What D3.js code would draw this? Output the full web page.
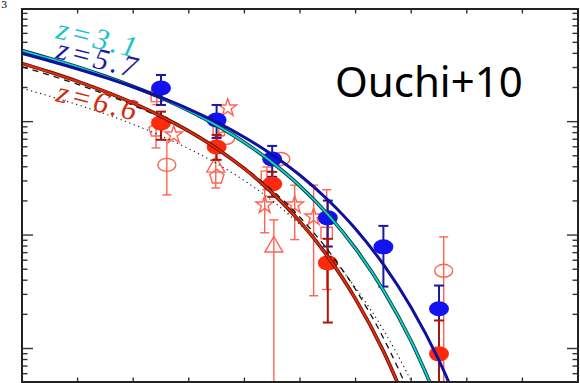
<!DOCTYPE html>
<meta charset="utf-8">
<style>
body { margin: 0; background: #fff; }
svg { display: block; }
.frame { fill: none; stroke: #222; stroke-width: 2; }
.tick { stroke: #333; stroke-width: 1.4; }
.lbl { font-family: "Liberation Serif", "DejaVu Serif", serif; font-style: italic; font-size: 30px; letter-spacing: 3px; }
</style>

<svg width="580" height="383"></svg>

<script src="https://d3js.org/d3.v7.min.js"></script>
<script>
var curveLogL = [42.0, 42.1, 42.2, 42.3, 42.4, 42.5, 42.6, 42.7, 42.8, 42.9, 43.0, 43.1, 43.2, 43.3, 43.4, 43.5, 43.6];
// log phi of each curve on that grid
var curveZ31   = [-3.373, -3.443, -3.518, -3.600, -3.690, -3.790, -3.903, -4.033, -4.183, -4.360, -4.568, -4.818, -5.120, -5.487, -5.936, -6.488, -7.1];
var curveZ57   = [-3.399, -3.465, -3.536, -3.612, -3.695, -3.787, -3.889, -4.005, -4.138, -4.292, -4.473, -4.689, -4.947, -5.259, -5.639, -6.105, -6.677];
var curveZ66   = [-3.487, -3.563, -3.645, -3.736, -3.837, -3.952, -4.084, -4.236, -4.415, -4.628, -4.882, -5.190, -5.564, -6.023, -6.587, -7.2, -7.9];
var curveDash  = [-3.517, -3.591, -3.671, -3.759, -3.856, -3.966, -4.091, -4.236, -4.405, -4.605, -4.843, -5.131, -5.480, -5.907, -6.431, -7.0, -7.7];
var curveDot   = [-3.706, -3.776, -3.851, -3.933, -4.024, -4.125, -4.239, -4.369, -4.520, -4.698, -4.909, -5.161, -5.466, -5.836, -6.290, -6.848, -7.5];

// Ouchi+10 z=5.7 points (log phi, with upper / lower ends of the error bars)
var logL57   = [42.5, 42.7, 42.9, 43.1, 43.3, 43.5];
var phi57    = [-3.703, -3.985, -4.329, -4.848, -5.104, -5.650];
var hi57     = [-3.589, -3.853, -4.214, -4.696, -4.919, -5.445];
var lo57     = [-3.853, -4.144, -4.487, -5.101, -5.454, -6.8];

// Ouchi+10 z=6.6 points
var logL66   = [42.5, 42.7, 42.9, 43.1, 43.5];
var phi66    = [-4.011, -4.223, -4.549, -5.245, -6.047];
var hi66     = [-3.912, -4.117, -4.443, -5.033, -5.753];
var lo66     = [-4.160, -4.337, -4.663, -5.771, -6.8];

// other z=6.6 measurements (open symbols)
var otherType  = ["square", "pentagon", "star", "circle", "triangle", "pentagon", "star", "circle", "square", "circle", "square", "star", "star", "star", "triangle", "square", "circle"];
var otherLogL  = [42.485, 42.482, 42.546, 42.521, 42.697, 42.701, 42.740, 42.733, 42.708, 42.931, 42.881, 42.873, 42.981, 43.049, 42.906, 43.096, 43.517];
var otherPhi   = [-3.773, -4.073, -4.117, -4.381, -4.399, -4.487, -3.879, -4.144, -4.073, -4.329, -4.487, -4.734, -4.734, -4.840, -5.104, -4.981, -5.315];
var otherHi    = [-3.70, -3.98, null, -4.161, -4.249, null, null, null, -4.02, null, -4.40, -4.56, -4.56, -4.56, -4.866, -4.60, -5.016];
var otherLo    = [-3.85, -4.232, null, -4.646, -4.585, null, null, null, -4.13, null, -4.60, -4.98, -5.04, -5.535, -6.8, -5.48, -6.8];

var svg = d3.select("svg");
var pl = 22, pr = 578, pt = 9, pb = 382;

var x = d3.scaleLinear().domain([42.0, 44.0]).range([pl, pr]);
var y = d3.scaleLog().domain([1e-6, 1e-3]).range([348.5, 8.2]);
var yl = function(v) { return y(Math.pow(10, v)); };

svg.append("clipPath").attr("id", "clip")
  .append("rect").attr("x", pl).attr("y", pt).attr("width", pr - pl).attr("height", pb - pt);

// ticks
var ticks = svg.append("g");
d3.range(-7, -2).forEach(function(e) {
  d3.range(1, 10).forEach(function(k) {
    var yy = y(k * Math.pow(10, e));
    if (yy < pt || yy > pb) return;
    var len = k === 1 ? 11 : 5.5;
    ticks.append("line").attr("class", "tick").attr("x1", pl).attr("x2", pl + len).attr("y1", yy).attr("y2", yy);
    ticks.append("line").attr("class", "tick").attr("x1", pr).attr("x2", pr - len).attr("y1", yy).attr("y2", yy);
  });
});
x.ticks(10).forEach(function(t) {
  var xx = x(t);
  ticks.append("line").attr("class", "tick").attr("x1", xx).attr("x2", xx).attr("y1", pb).attr("y2", pb - 4.5);
  ticks.append("line").attr("class", "tick").attr("x1", xx).attr("x2", xx).attr("y1", pt).attr("y2", pt + 4.5);
});

var plot = svg.append("g").attr("clip-path", "url(#clip)");

// open symbols of other surveys
var salmon = "#ff6352";
function symbolPath(type) {
  if (type === "square") return d3.symbol(d3.symbolSquare, 130)();
  if (type === "star") return d3.symbol(d3.symbolStar, 95)();
  if (type === "triangle") return d3.symbol(d3.symbolTriangle, 140)();
  if (type === "pentagon") {
    var pts = d3.range(5).map(function(i) {
      var a = -Math.PI / 2 + i * 2 * Math.PI / 5;
      return [7.5 * Math.cos(a), 7.5 * Math.sin(a)];
    });
    return "M" + pts.join("L") + "Z";
  }
  return null;
}
var others = otherType.map(function(t, i) {
  return { type: t, x: otherLogL[i], y: otherPhi[i], hi: otherHi[i], lo: otherLo[i] };
});
var og = plot.append("g").attr("stroke", salmon).attr("fill", "none").attr("stroke-width", 1.4);
others.forEach(function(d) {
  var cx = x(d.x), cy = yl(d.y);
  if (d.hi !== null) {
    og.append("line").attr("x1", cx).attr("x2", cx).attr("y1", yl(d.hi)).attr("y2", yl(d.lo));
    og.append("line").attr("x1", cx - 4.5).attr("x2", cx + 4.5).attr("y1", yl(d.hi)).attr("y2", yl(d.hi));
    og.append("line").attr("x1", cx - 4.5).attr("x2", cx + 4.5).attr("y1", yl(d.lo)).attr("y2", yl(d.lo));
  }
  if (d.type === "circle") {
    og.append("ellipse").attr("cx", cx).attr("cy", cy).attr("rx", 9).attr("ry", 6.5);
  } else {
    og.append("path").attr("d", symbolPath(d.type)).attr("transform", "translate(" + cx + "," + cy + ")");
  }
});

// filled Ouchi+10 points
function filled(xs, ys, his, los, fill, bar) {
  var g = plot.append("g");
  xs.forEach(function(v, i) {
    var cx = x(v);
    g.append("line").attr("x1", cx).attr("x2", cx).attr("y1", yl(his[i])).attr("y2", yl(los[i]))
      .attr("stroke", bar).attr("stroke-width", 2);
    [his[i], los[i]].forEach(function(e) {
      g.append("line").attr("x1", cx - 5).attr("x2", cx + 5).attr("y1", yl(e)).attr("y2", yl(e))
        .attr("stroke", bar).attr("stroke-width", 2);
    });
  });
  xs.forEach(function(v, i) {
    g.append("ellipse").attr("cx", x(v)).attr("cy", yl(ys[i])).attr("rx", 10).attr("ry", 7.5).attr("fill", fill);
  });
}
filled(logL57, phi57, hi57, lo57, "#1212f2", "#1a1aa0");
filled(logL66, phi66, hi66, lo66, "#ff2a0c", "#a8160c");

// model curves
var line = d3.line().x(function(d) { return x(d[0]); }).y(function(d) { return yl(d[1]); }).curve(d3.curveMonotoneX);
function curve(vals, stroke, width, dash) {
  var p = plot.append("path").datum(curveLogL.map(function(l, i) { return [l, vals[i]]; }))
    .attr("d", line).attr("fill", "none").attr("stroke", stroke).attr("stroke-width", width);
  if (dash) p.attr("stroke-dasharray", dash);
}
curve(curveDot, "#111", 1.1, "1.2,3.5");
curve(curveDash, "#111", 1.3, "6,5");
curve(curveZ66, "#6a1005", 3.6);
curve(curveZ66, "#e0300c", 1.8);
curve(curveZ31, "#0a3a3a", 3.6);
curve(curveZ31, "#10d0d0", 1.8);
curve(curveZ57, "#1010a0", 3);

// frame
svg.append("rect").attr("class", "frame").attr("x", pl).attr("y", pt).attr("width", pr - pl).attr("height", pb - pt);

// labels
function label(txt, px, py, color) {
  svg.append("text").attr("class", "lbl").attr("fill", color)
    .attr("transform", "translate(" + px + "," + py + ") rotate(14)").text(txt);
}
label("z=3.1", 55, 38, "#1cc4c4");
label("z=5.7", 55, 58, "#1a1aa0");
label("z=6.6", 55, 101, "#d42a10");

svg.append("text").attr("x", 335).attr("y", 97)
  .attr("font-family", "'Noto Sans', sans-serif").attr("font-size", 42).attr("fill", "#000")
  .text("Ouchi+10");

// tick label at the top-left corner, mostly cut off in the original
svg.append("text").attr("x", 1).attr("y", 8)
  .attr("font-family", "'DejaVu Serif', serif").attr("font-size", 10).text("3");
</script>
